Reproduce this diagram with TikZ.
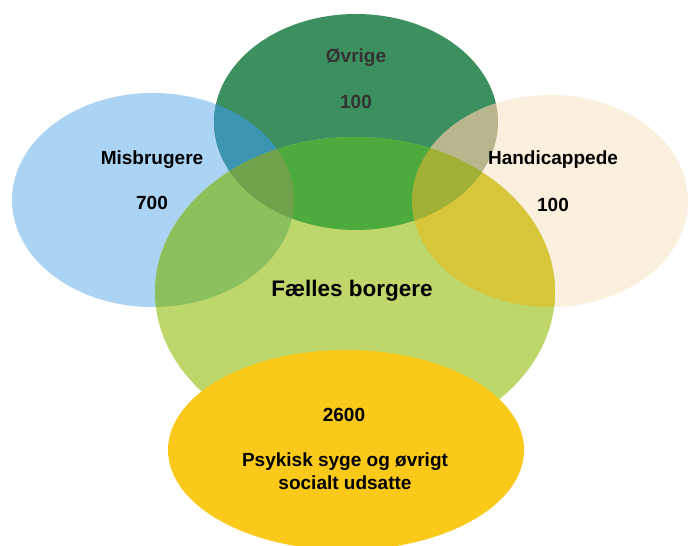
\documentclass[tikz,border=0pt]{standalone}
\usepackage{fontspec}
\setmainfont{Liberation Sans}
\definecolor{cBlue}{HTML}{ABD3F3}
\definecolor{cDG}{HTML}{3C8F5E}
\definecolor{cBeige}{HTML}{FAF0DD}
\definecolor{cLG}{HTML}{BDD76B}
\definecolor{cYel}{HTML}{FBC91A}
\definecolor{cBlueDG}{HTML}{3C95B0}
\definecolor{cDGBeige}{HTML}{B9B58C}
\definecolor{cLGBlue}{HTML}{8CC05C}
\definecolor{cLGDG}{HTML}{4DAA3C}
\definecolor{cLGBeige}{HTML}{D7C53A}
\definecolor{cLGDGBlue}{HTML}{6FA24A}
\definecolor{cLGDGBeige}{HTML}{A2B136}
\tikzset{
  eBlue/.style={insert path={(153,200) ellipse [x radius=141, y radius=107]}},
  eDG/.style={insert path={(356,122) ellipse [x radius=142, y radius=108]}},
  eBeige/.style={insert path={(550,201) ellipse [x radius=138, y radius=106]}},
  eLG/.style={insert path={(355,292) ellipse [x radius=200, y radius=155]}},
  eYel/.style={insert path={(346,450) ellipse [x radius=178, y radius=100]}},
  lbl/.style={font=\fontsize{19bp}{23bp}\selectfont\bfseries, text=black, inner sep=0pt, align=center},
  title/.style={font=\fontsize{22.5bp}{26bp}\selectfont\bfseries, text=black, inner sep=0pt}
}
\begin{document}
\begin{tikzpicture}[x=1bp,y=-1bp]
\useasboundingbox (0,0) rectangle (688,546);
\fill[white] (0,0) rectangle (688,546);
% base ellipses
\fill[cBlue, eBlue];
\fill[cDG, eDG];
\fill[cBeige, eBeige];
\begin{scope}\clip[eBlue];\fill[cBlueDG, eDG];\end{scope}
\begin{scope}\clip[eBeige];\fill[cDGBeige, eDG];\end{scope}
% fælles ellipse
\fill[cLG, eLG];
\begin{scope}\clip[eLG];\fill[cLGBlue, eBlue];\end{scope}
\begin{scope}\clip[eLG];\fill[cLGBeige, eBeige];\end{scope}
\begin{scope}\clip[eLG];\fill[cLGDG, eDG];\end{scope}
\begin{scope}\clip[eLG];\clip[eDG];\fill[cLGDGBlue, eBlue];\end{scope}
\begin{scope}\clip[eLG];\clip[eDG];\fill[cLGDGBeige, eBeige];\end{scope}
% psykisk syge
\fill[cYel, eYel];
% labels
\node[lbl, text=black!80] (ovrige) at (356,58) {Øvrige};
\node[lbl, text=black!80] (ovrigeN) at (356,102) {100};
\node[lbl] (misb) at (152,160) {Misbrugere};
\node[lbl] (misbN) at (152,203) {700};
\node[lbl] (hand) at (553,160) {Handicappede};
\node[lbl] (handN) at (553,205) {100};
\node[title] (faelles) at (352,291) {Fælles borgere};
\node[lbl] (psykN) at (344,415) {2600};
\node[lbl] (psyk) at (345,471) {Psykisk syge og øvrigt\\[0bp]socialt udsatte};
\end{tikzpicture}
\end{document}
